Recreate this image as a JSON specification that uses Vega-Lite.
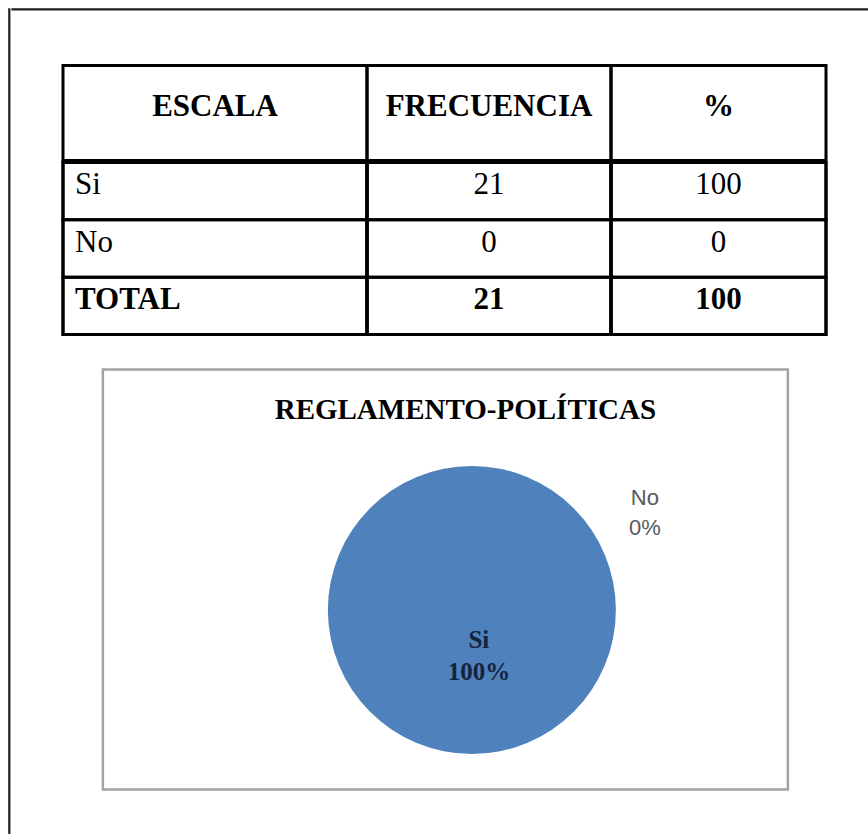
{
  "$schema": "https://vega.github.io/schema/vega-lite/v6.json",
  "padding": {"left": 7.5, "top": 7.5, "right": 0, "bottom": 0},
  "background": "white",
  "config": {"view": {"stroke": null}},
  "datasets": {
    "tabla": [
      {"escala": "Si", "frecuencia": 21, "porcentaje": 100},
      {"escala": "No", "frecuencia": 0, "porcentaje": 0},
      {"escala": "TOTAL", "frecuencia": 21, "porcentaje": 100}
    ],
    "encabezado": [
      {"columna": "ESCALA"},
      {"columna": "FRECUENCIA"},
      {"columna": "%"}
    ]
  },
  "spacing": 0,
  "hconcat": [
    {
      "width": 1,
      "height": 840,
      "view": {"stroke": "#1e1e1e", "strokeWidth": 1.2},
      "data": {"values": [{}]},
      "mark": {"type": "rect", "opacity": 0},
      "encoding": {}
    },
    {
      "spacing": 53,
      "center": true,
      "vconcat": [
        {
          "width": 868,
          "height": 1,
          "view": {"stroke": "#1e1e1e", "strokeWidth": 1.2},
          "data": {"values": [{}]},
          "mark": {"type": "rect", "opacity": 0},
          "encoding": {}
        },
        {
          "spacing": 30,
          "center": true,
          "vconcat": [
            {
              "spacing": -6,
              "vconcat": [
                {
                  "spacing": 0,
                  "bounds": "flush",
                  "hconcat": [
                    {
                      "width": 304, "height": 95,
                      "view": {"stroke": "black", "strokeWidth": 3},
                      "data": {"name": "encabezado"},
                      "transform": [{"filter": "datum.columna === 'ESCALA'"}],
                      "mark": {"type": "text", "font": "Liberation Serif", "fontSize": 31, "fontWeight": "bold", "baseline": "alphabetic", "dy": 2.5, "color": "black"},
                      "encoding": {"text": {"field": "columna"}}
                    },
                    {
                      "width": 244, "height": 95,
                      "view": {"stroke": "black", "strokeWidth": 3},
                      "data": {"name": "encabezado"},
                      "transform": [{"filter": "datum.columna === 'FRECUENCIA'"}],
                      "mark": {"type": "text", "font": "Liberation Serif", "fontSize": 31, "fontWeight": "bold", "baseline": "alphabetic", "dy": 2.5, "color": "black"},
                      "encoding": {"text": {"field": "columna"}}
                    },
                    {
                      "width": 215, "height": 95,
                      "view": {"stroke": "black", "strokeWidth": 3},
                      "data": {"name": "encabezado"},
                      "transform": [{"filter": "datum.columna === '%'"}],
                      "mark": {"type": "text", "font": "Liberation Serif", "fontSize": 31, "fontWeight": "bold", "baseline": "alphabetic", "dy": 2.5, "color": "black"},
                      "encoding": {"text": {"field": "columna"}}
                    }
                  ]
                },
                {
                  "spacing": 0,
                  "bounds": "flush",
                  "hconcat": [
                    {
                      "width": 304, "height": 172,
                      "view": {"stroke": "black", "strokeWidth": 3},
                      "data": {"name": "tabla"},
                      "encoding": {
                        "y": {"field": "escala", "type": "nominal", "sort": null, "axis": null, "scale": {"type": "band", "paddingInner": 0, "paddingOuter": 0}}
                      },
                      "layer": [
                        {"mark": {"type": "rect", "fillOpacity": 0, "stroke": "black", "strokeWidth": 3}},
                        {
                          "transform": [{"filter": "datum.escala !== 'TOTAL'"}],
                          "mark": {"type": "text", "align": "left", "baseline": "alphabetic", "dx": 12, "dy": 3, "font": "Liberation Serif", "fontSize": 31, "color": "black"},
                          "encoding": {
                            "x": {"datum": "ESCALA", "type": "nominal", "bandPosition": 0, "axis": null, "scale": {"type": "band", "paddingInner": 0, "paddingOuter": 0}},
                            "text": {"field": "escala"}
                          }
                        },
                        {
                          "transform": [{"filter": "datum.escala === 'TOTAL'"}],
                          "mark": {"type": "text", "align": "left", "baseline": "alphabetic", "dx": 12, "dy": 3, "font": "Liberation Serif", "fontSize": 31, "fontWeight": "bold", "color": "black"},
                          "encoding": {
                            "x": {"datum": "ESCALA", "type": "nominal", "bandPosition": 0, "axis": null, "scale": {"type": "band", "paddingInner": 0, "paddingOuter": 0}},
                            "text": {"field": "escala"}
                          }
                        }
                      ]
                    },
                    {
                      "width": 244, "height": 172,
                      "view": {"stroke": "black", "strokeWidth": 3},
                      "data": {"name": "tabla"},
                      "encoding": {
                        "y": {"field": "escala", "type": "nominal", "sort": null, "axis": null, "scale": {"type": "band", "paddingInner": 0, "paddingOuter": 0}}
                      },
                      "layer": [
                        {"mark": {"type": "rect", "fillOpacity": 0, "stroke": "black", "strokeWidth": 3}},
                        {
                          "transform": [{"filter": "datum.escala !== 'TOTAL'"}],
                          "mark": {"type": "text", "baseline": "alphabetic", "dy": 3, "font": "Liberation Serif", "fontSize": 31, "color": "black"},
                          "encoding": {"text": {"field": "frecuencia"}}
                        },
                        {
                          "transform": [{"filter": "datum.escala === 'TOTAL'"}],
                          "mark": {"type": "text", "baseline": "alphabetic", "dy": 3, "font": "Liberation Serif", "fontSize": 31, "fontWeight": "bold", "color": "black"},
                          "encoding": {"text": {"field": "frecuencia"}}
                        }
                      ]
                    },
                    {
                      "width": 215, "height": 172,
                      "view": {"stroke": "black", "strokeWidth": 3},
                      "data": {"name": "tabla"},
                      "encoding": {
                        "y": {"field": "escala", "type": "nominal", "sort": null, "axis": null, "scale": {"type": "band", "paddingInner": 0, "paddingOuter": 0}}
                      },
                      "layer": [
                        {"mark": {"type": "rect", "fillOpacity": 0, "stroke": "black", "strokeWidth": 3}},
                        {
                          "transform": [{"filter": "datum.escala !== 'TOTAL'"}],
                          "mark": {"type": "text", "baseline": "alphabetic", "dy": 3, "font": "Liberation Serif", "fontSize": 31, "color": "black"},
                          "encoding": {"text": {"field": "porcentaje"}}
                        },
                        {
                          "transform": [{"filter": "datum.escala === 'TOTAL'"}],
                          "mark": {"type": "text", "baseline": "alphabetic", "dy": 3, "font": "Liberation Serif", "fontSize": 31, "fontWeight": "bold", "color": "black"},
                          "encoding": {"text": {"field": "porcentaje"}}
                        }
                      ]
                    }
                  ]
                }
              ]
            },
            {
              "width": 685,
              "height": 420,
              "view": {"stroke": "#a3a3a3", "strokeWidth": 2.5},
              "title": {"text": "REGLAMENTO-POLÍTICAS", "font": "Liberation Serif", "fontSize": 29, "fontWeight": "bold", "color": "black", "anchor": "middle", "dx": 20, "offset": -78, "baseline": "alphabetic"},
              "data": {"name": "tabla"},
              "transform": [
                {"filter": "datum.escala !== 'TOTAL'"},
                {"calculate": "datum.escala + '\\n' + datum.porcentaje + '%'", "as": "etiqueta"}
              ],
              "encoding": {
                "theta": {"field": "porcentaje", "type": "quantitative", "stack": true}
              },
              "layer": [
                {
                  "mark": {"type": "arc", "outerRadius": 144, "xOffset": 26.5, "yOffset": 30.5},
                  "encoding": {
                    "color": {"field": "escala", "type": "nominal", "scale": {"domain": ["Si", "No"], "range": ["#4F81BD", "#C0504D"]}, "legend": null}
                  }
                },
                {
                  "transform": [{"filter": "datum.escala === 'Si'"}],
                  "mark": {"type": "text", "radius": 30, "xOffset": 33.5, "yOffset": 30.5, "lineBreak": "\n", "lineHeight": 32, "font": "Liberation Serif", "fontSize": 25, "fontWeight": "bold", "color": "#14243d", "baseline": "middle"},
                  "encoding": {"text": {"field": "etiqueta"}}
                },
                {
                  "transform": [{"filter": "datum.escala === 'No'"}],
                  "mark": {"type": "text", "radius": 112, "dx": 173, "xOffset": 26.5, "yOffset": 30.5, "lineBreak": "\n", "lineHeight": 30, "font": "Liberation Sans", "fontSize": 22, "color": "#595959", "baseline": "middle"},
                  "encoding": {"text": {"field": "etiqueta"}}
                }
              ]
            }
          ]
        }
      ]
    }
  ]
}
